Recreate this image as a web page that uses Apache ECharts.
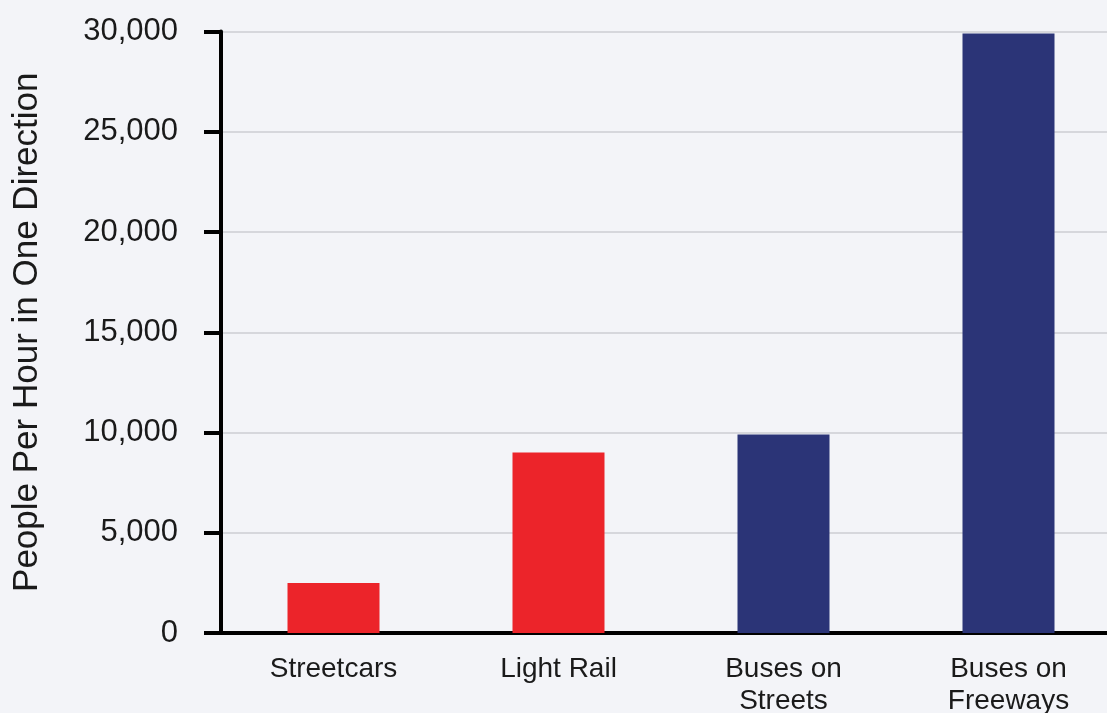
<!DOCTYPE html>
<html>
<head>
<meta charset="utf-8">
<script src="https://cdn.jsdelivr.net/npm/echarts@6/dist/echarts.min.js"></script>
<style>
html,body{margin:0;padding:0;background:#f3f4f8;}
#chart{width:1107px;height:713px;}
</style>
</head>
<body>
<div id="chart"></div>
<script>
const categories = ['Streetcars', 'Light Rail', 'Buses on\nStreets', 'Buses on\nFreeways'];
const peoplePerHour = [2500, 9000, 9900, 29900];
const yTicks = [0, 5000, 10000, 15000, 20000, 25000, 30000];
const barColors = ['#ec242a', '#ec242a', '#2b3477', '#2b3477'];

const chart = echarts.init(document.getElementById('chart'), null, {renderer: 'canvas'});
const fontFam = '"Liberation Sans", Arial, sans-serif';
chart.setOption({
  backgroundColor: '#f3f4f8',
  animation: false,
  grid: {left: 221, top: 31.5, bottom: 80, width: 900, outerBoundsMode: 'none', containLabel: false},
  xAxis: {
    type: 'category',
    data: categories,
    axisLine: {lineStyle: {color: '#000', width: 4}},
    axisTick: {show: false},
    axisLabel: {color: '#1a1a1a', fontSize: 28, fontFamily: fontFam, margin: 20, lineHeight: 32}
  },
  yAxis: {
    type: 'value',
    min: yTicks[0],
    max: yTicks[yTicks.length - 1],
    interval: yTicks[1] - yTicks[0],
    name: 'People Per Hour in One Direction',
    nameLocation: 'middle',
    nameGap: 176,
    nameTextStyle: {color: '#1a1a1a', fontSize: 35, fontFamily: fontFam},
    axisLine: {show: true, lineStyle: {color: '#000', width: 4}},
    axisTick: {show: true, length: 17, lineStyle: {color: '#000', width: 4}},
    axisLabel: {
      color: '#1a1a1a', fontSize: 31, fontFamily: fontFam, margin: 43,
      formatter: v => v.toLocaleString('en-US')
    },
    splitLine: {show: true, lineStyle: {color: '#d6d7dc', width: 2}}
  },
  series: [{
    type: 'bar',
    barWidth: 92,
    data: peoplePerHour.map((v, i) => ({value: v, itemStyle: {color: barColors[i]}}))
  }]
});
</script>
</body>
</html>
